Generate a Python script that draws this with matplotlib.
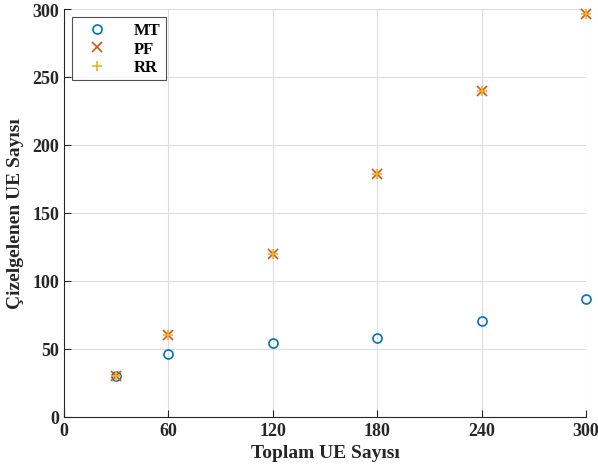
import matplotlib
matplotlib.use('Agg')
import matplotlib.pyplot as plt

# toplam UE sayisi ve cizelgelenen UE sayilari
ue_total = [30, 60, 120, 180, 240, 300]
mt = [30, 46, 54, 58, 70.5, 87]
pf = [30, 60, 120, 179, 240, 296]
rr = [30, 60, 120, 179, 240, 296]

plt.rcParams['font.family'] = ['Liberation Serif', 'DejaVu Serif']
plt.rcParams['font.weight'] = 'bold'

fig = plt.figure(figsize=(5.98, 4.77), dpi=100)
ax = fig.add_axes([0.107, 0.124, 0.873, 0.855])

ax.plot(ue_total, mt, 'o', mfc='none', mec='#0072BD', mew=1.2, ms=6.5, label='MT', clip_on=False)
ax.plot(ue_total, pf, 'x', color='#D95319', mew=1.2, ms=6.5, label='PF', clip_on=False)
ax.plot(ue_total, rr, '+', color='#EDB120', mew=1.2, ms=7.5, label='RR', clip_on=False)

ax.set_xlim(0, 300)
ax.set_ylim(0, 300)
ax.set_xticks([0, 60, 120, 180, 240, 300])
ax.set_yticks(range(0, 301, 50))
ax.grid(True, color='#dddddd', lw=0.8)
ax.set_axisbelow(True)
for s in ['top', 'right']:
    ax.spines[s].set_visible(False)
ax.spines['left'].set_color('#262626')
ax.spines['bottom'].set_color('#262626')
ax.tick_params(direction='in', length=5, labelsize=13, colors='#262626')
for lbl in ax.get_xticklabels() + ax.get_yticklabels():
    lbl.set_fontweight('bold')

ax.set_xlabel('Toplam UE Sayısı', fontsize=14, fontweight='bold', color='#262626', labelpad=4)
ax.set_ylabel('Çizelgelenen UE Sayısı', fontsize=14, fontweight='bold', color='#262626', labelpad=6)

leg = ax.legend(loc='upper left', bbox_to_anchor=(0.0, 1.0), fontsize=12, frameon=True,
                fancybox=False, edgecolor='#262626', handletextpad=1.0, borderpad=0.3,
                labelspacing=0.15, markerfirst=True, handlelength=2.4)
leg.get_frame().set_linewidth(0.8)
for t in leg.get_texts():
    t.set_fontweight('bold')

fig.savefig('out.png', dpi=100)
